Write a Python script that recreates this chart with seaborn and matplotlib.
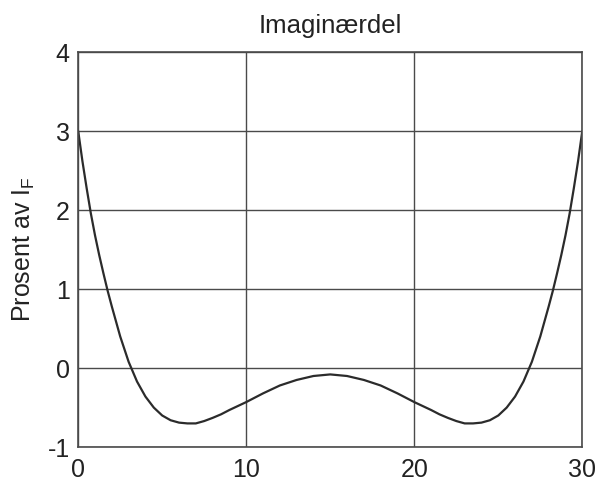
import matplotlib
matplotlib.use("Agg")
import matplotlib.pyplot as plt
import seaborn as sns
import pandas as pd

# Imaginary part of the fault current, in percent of I_F
position = [0, 0.25, 0.5, 0.75, 1, 1.25, 1.5, 1.75, 2, 2.5, 3, 3.5, 4, 4.5,
            5, 5.5, 6, 6.5, 7, 7.5, 8, 8.5, 9, 10, 11, 12, 13, 14, 15,
            16, 17, 18, 19, 20, 21, 21.5, 22, 22.5, 23, 23.5, 24, 24.5,
            25, 25.5, 26, 26.5, 27, 27.5, 28, 28.25, 28.5, 28.75, 29,
            29.25, 29.5, 29.75, 30]
imag_percent = [3.00, 2.62, 2.28, 1.96, 1.68, 1.43, 1.20, 0.98, 0.78, 0.40,
                0.08, -0.17, -0.36, -0.50, -0.60, -0.66, -0.69, -0.70, -0.70,
                -0.67, -0.63, -0.585, -0.53, -0.43, -0.32, -0.22, -0.15, -0.10,
                -0.08,
                -0.10, -0.15, -0.22, -0.32, -0.43, -0.53, -0.585, -0.63, -0.67,
                -0.70, -0.70, -0.69, -0.66, -0.60, -0.50, -0.36, -0.17, 0.08,
                0.40, 0.78, 0.98, 1.20, 1.43, 1.68, 1.96, 2.28, 2.62, 3.00]

x_ticks = [0, 10, 20, 30]
y_ticks = [-1, 0, 1, 2, 3, 4]

df = pd.DataFrame({"x": position, "y": imag_percent})

sns.set_theme(style="whitegrid")
plt.rcParams["font.family"] = ["Liberation Sans", "DejaVu Sans"]
plt.rcParams["mathtext.fontset"] = "custom"
plt.rcParams["mathtext.rm"] = "Liberation Sans"

fig = plt.figure(figsize=(6.11, 4.86), dpi=100)
ax = fig.add_axes([0.128, 0.080, 0.825, 0.813])

sns.lineplot(data=df, x="x", y="y", ax=ax, estimator=None, sort=False,
             color="#2b2b2b", linewidth=1.6)

ax.set_xlim(0, 30)
ax.set_ylim(-1, 4)
ax.set_xticks(x_ticks)
ax.set_yticks(y_ticks)
ax.set_xticklabels([str(t) for t in x_ticks])
ax.set_yticklabels([str(t) for t in y_ticks])

ax.grid(True, color="#4a4a4a", linewidth=1.0, linestyle="-")
for s in ax.spines.values():
    s.set_visible(True)
    s.set_color("#4a4a4a")
    s.set_linewidth(1.2)

ax.tick_params(axis="both", length=0, labelsize=18, colors="#222222")
ax.tick_params(axis="x", pad=8)
ax.tick_params(axis="y", pad=6)

ax.set_xlabel("")
ax.set_ylabel(r"Prosent av I$_\mathregular{F}$", fontsize=18, color="#222222",
              labelpad=8)
ax.set_title("Imaginærdel", fontsize=18.5, color="#222222", pad=14)

fig.savefig("out.png", dpi=100, facecolor="white")
